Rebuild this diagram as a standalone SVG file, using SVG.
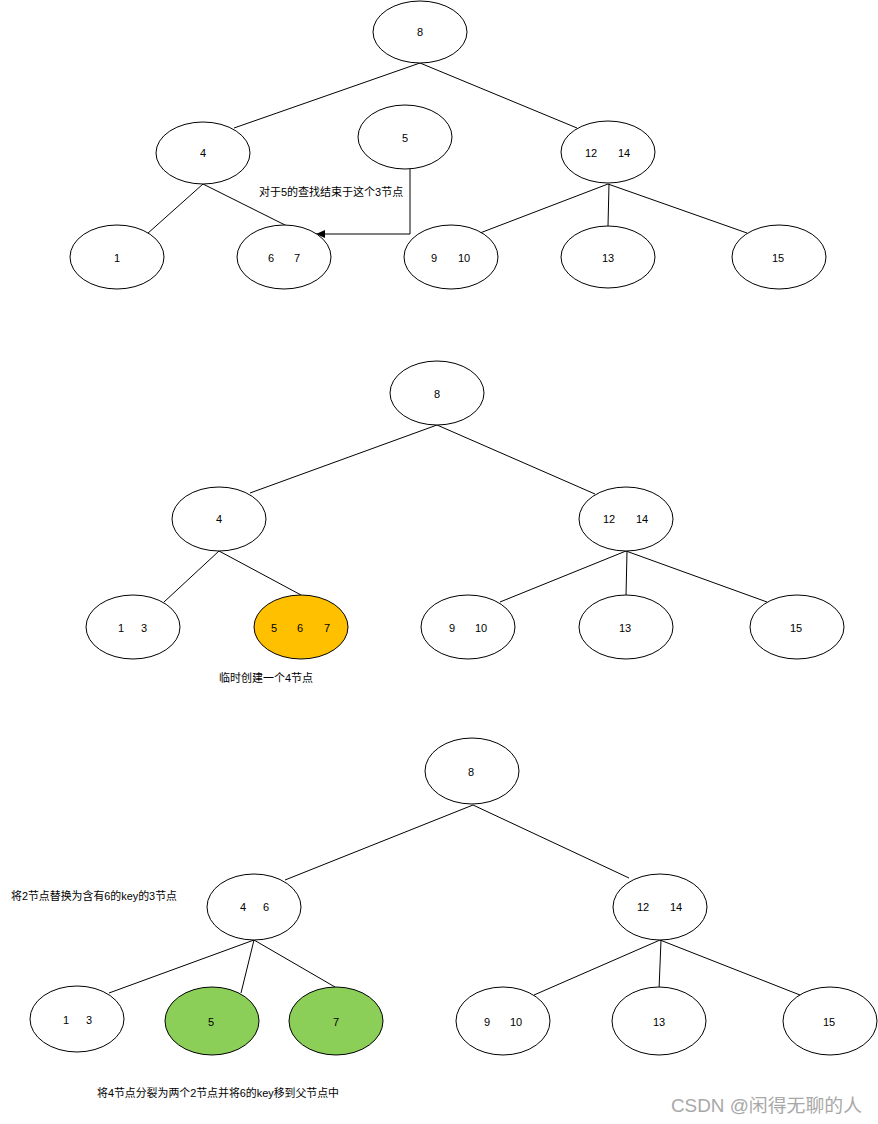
<svg xmlns="http://www.w3.org/2000/svg" width="878" height="1124" viewBox="0 0 878 1124">
<style>
  .n { fill: #ffffff; stroke: #000000; stroke-width: 1; }
  .o { fill: #FFC000; stroke: #000000; stroke-width: 1; }
  .g { fill: #8BCF59; stroke: #000000; stroke-width: 1; }
  text { font-family: "Liberation Sans", "Noto Sans CJK SC", sans-serif; font-size: 11px; fill: #000000; text-anchor: middle; dominant-baseline: central; }
  .lbl { text-anchor: start; }
  .wm { font-size: 18px; fill: #a8a8a8; text-anchor: start; }
  .e { stroke: #000000; stroke-width: 1; fill: none; }
</style>
<defs>
  <marker id="arr" markerWidth="10" markerHeight="10" refX="9" refY="5" orient="auto" markerUnits="userSpaceOnUse">
    <path d="M0,1 L9,5 L0,9 Z" fill="#000000"/>
  </marker>
</defs>
<rect width="878" height="1124" fill="#ffffff"/>

<g id="connectors">
  <!-- top -->
  <line class="e" x1="420" y1="63" x2="234" y2="128"/>
  <line class="e" x1="420" y1="63" x2="577" y2="128"/>
  <line class="e" x1="203" y1="184" x2="147" y2="234"/>
  <line class="e" x1="203" y1="184" x2="287" y2="226"/>
  <line class="e" x1="608" y1="184" x2="480" y2="233"/>
  <line class="e" x1="609" y1="184" x2="608" y2="226"/>
  <line class="e" x1="608" y1="184" x2="747" y2="233"/>
  <polyline class="e" points="410,169 410,234 316,234" marker-end="url(#arr)"/>
  <!-- middle -->
  <line class="e" x1="437" y1="425" x2="250" y2="493"/>
  <line class="e" x1="437" y1="425" x2="595" y2="494"/>
  <line class="e" x1="219" y1="551" x2="164" y2="602"/>
  <line class="e" x1="219" y1="551" x2="301" y2="595"/>
  <line class="e" x1="626" y1="551" x2="500" y2="602"/>
  <line class="e" x1="627" y1="551" x2="626" y2="596"/>
  <line class="e" x1="626" y1="551" x2="767" y2="602"/>
  <!-- bottom -->
  <line class="e" x1="473" y1="805" x2="285" y2="880"/>
  <line class="e" x1="473" y1="805" x2="629" y2="878"/>
  <line class="e" x1="254" y1="940" x2="109" y2="993"/>
  <line class="e" x1="254" y1="940" x2="241" y2="993"/>
  <line class="e" x1="254" y1="940" x2="335" y2="987"/>
  <line class="e" x1="660" y1="940" x2="534" y2="995"/>
  <line class="e" x1="661" y1="940" x2="659" y2="990"/>
  <line class="e" x1="660" y1="940" x2="800" y2="995"/>
</g>

<!-- top section -->
<g id="t8"><ellipse class="n" cx="420" cy="32" rx="47" ry="31"/><text x="420" y="32">8</text></g>
<g id="t4"><ellipse class="n" cx="203" cy="153" rx="47" ry="31"/><text x="203" y="153">4</text></g>
<g id="t5"><ellipse class="n" cx="405" cy="137" rx="47" ry="32"/><text x="405" y="138">5</text></g>
<g id="t1214"><ellipse class="n" cx="608" cy="152" rx="47" ry="31"/><text x="591" y="153">12</text><text x="624" y="153">14</text></g>
<g id="t1"><ellipse class="n" cx="117" cy="257" rx="47" ry="32"/><text x="117" y="258">1</text></g>
<g id="t67"><ellipse class="n" cx="284" cy="257" rx="47" ry="32"/><text x="271" y="258">6</text><text x="297" y="258">7</text></g>
<g id="t910"><ellipse class="n" cx="451" cy="257" rx="47" ry="32"/><text x="434" y="258">9</text><text x="464" y="258">10</text></g>
<g id="t13"><ellipse class="n" cx="608" cy="257" rx="47" ry="31"/><text x="608" y="258">13</text></g>
<g id="t15"><ellipse class="n" cx="779" cy="257" rx="47" ry="32"/><text x="778" y="258">15</text></g>
<g id="tlabel"><text class="lbl" x="259" y="192">对于5的查找结束于这个3节点</text></g>

<!-- middle section -->
<g id="m8"><ellipse class="n" cx="437" cy="393" rx="47" ry="32"/><text x="437" y="394">8</text></g>
<g id="m4"><ellipse class="n" cx="219" cy="519" rx="47" ry="32"/><text x="219" y="519">4</text></g>
<g id="m1214"><ellipse class="n" cx="626" cy="519" rx="47" ry="32"/><text x="609" y="519">12</text><text x="642" y="519">14</text></g>
<g id="m13n"><ellipse class="n" cx="133" cy="627" rx="47" ry="32"/><text x="121" y="628">1</text><text x="144" y="628">3</text></g>
<g id="m567"><ellipse class="o" cx="301" cy="627" rx="47" ry="32"/><text x="274" y="628">5</text><text x="300" y="628">6</text><text x="327" y="628">7</text></g>
<g id="m910"><ellipse class="n" cx="468" cy="627" rx="47" ry="32"/><text x="452" y="628">9</text><text x="481" y="628">10</text></g>
<g id="m13"><ellipse class="n" cx="626" cy="627" rx="47" ry="32"/><text x="625" y="628">13</text></g>
<g id="m15"><ellipse class="n" cx="797" cy="627" rx="47" ry="32"/><text x="796" y="628">15</text></g>
<g id="mlabel"><text class="lbl" x="219" y="678">临时创建一个4节点</text></g>

<!-- bottom section -->
<g id="b8"><ellipse class="n" cx="472" cy="771" rx="47" ry="33"/><text x="471" y="772">8</text></g>
<g id="b46"><ellipse class="n" cx="254" cy="907" rx="47" ry="33"/><text x="243" y="907">4</text><text x="266" y="907">6</text></g>
<g id="b1214"><ellipse class="n" cx="660" cy="907" rx="47" ry="33"/><text x="643" y="907">12</text><text x="676" y="907">14</text></g>
<g id="b13n"><ellipse class="n" cx="77" cy="1019" rx="47" ry="33"/><text x="66" y="1020">1</text><text x="89" y="1020">3</text></g>
<g id="b5"><ellipse class="g" cx="212" cy="1021" rx="47" ry="34"/><text x="211" y="1022">5</text></g>
<g id="b7"><ellipse class="g" cx="336" cy="1021" rx="47" ry="34"/><text x="336" y="1022">7</text></g>
<g id="b910"><ellipse class="n" cx="503" cy="1021" rx="47" ry="34"/><text x="487" y="1022">9</text><text x="516" y="1022">10</text></g>
<g id="b13"><ellipse class="n" cx="659" cy="1021" rx="47" ry="34"/><text x="659" y="1022">13</text></g>
<g id="b15"><ellipse class="n" cx="830" cy="1021" rx="47" ry="34"/><text x="829" y="1022">15</text></g>
<g id="blabel1"><text class="lbl" x="11" y="896" textLength="166" lengthAdjust="spacingAndGlyphs">将2节点替换为含有6的key的3节点</text></g>
<g id="blabel2"><text class="lbl" x="97" y="1093" textLength="242" lengthAdjust="spacingAndGlyphs">将4节点分裂为两个2节点并将6的key移到父节点中</text></g>

<text class="wm" x="671" y="1106" textLength="191" lengthAdjust="spacingAndGlyphs">CSDN @闲得无聊的人</text>
</svg>
